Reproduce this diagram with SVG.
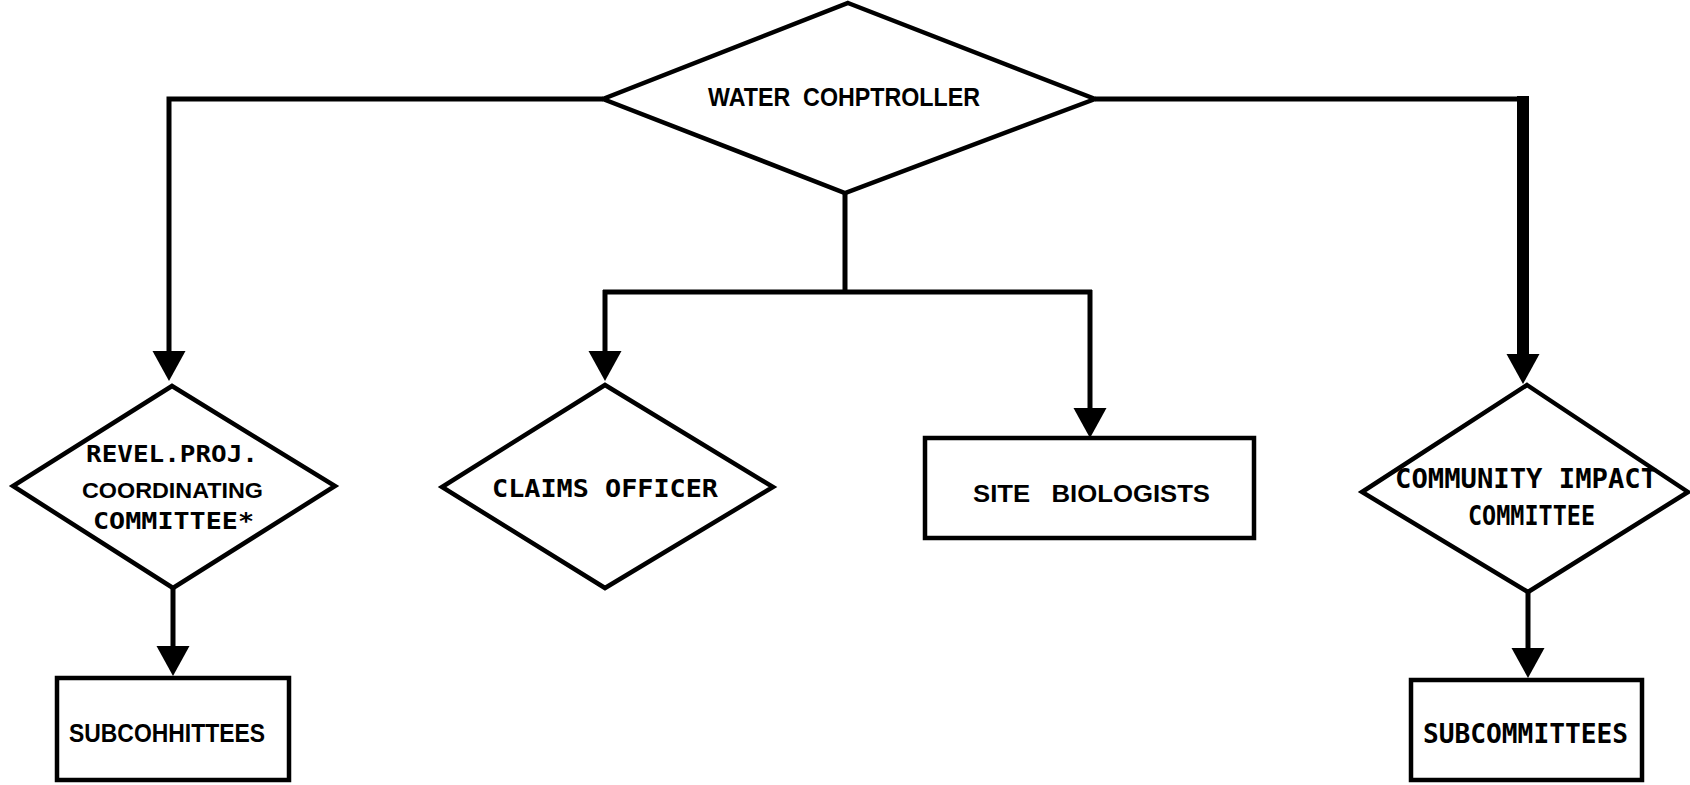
<svg xmlns="http://www.w3.org/2000/svg" width="1690" height="785" viewBox="0 0 1690 785">
  <style>
    .shape { fill: #fff; stroke: #000; stroke-width: 4.5; stroke-linejoin: miter; }
    .wire { fill: none; stroke: #000; stroke-width: 5; stroke-linecap: butt; stroke-linejoin: miter; }
    .heavy { stroke-width: 12; }
    text { white-space: pre; }
    .sans { font-family: "Liberation Sans", Arial, sans-serif; font-weight: bold; fill: #000; }
    .stencil { font-family: "DejaVu Sans Mono", "Liberation Mono", monospace; font-weight: bold; fill: #000; }
  </style>
  <defs>
    <marker id="arrow" viewBox="0 -17 32 34" refX="2" refY="0" markerUnits="userSpaceOnUse" markerWidth="32" markerHeight="34" orient="auto">
      <path d="M0,-16.5 L30,0 L0,16.5 Z" fill="#000"/>
    </marker>
  </defs>

  <rect width="1690" height="785" fill="#fff"/>

  <!-- connectors -->
  <g id="connectors">
    <path class="wire" d="M603,99 H169 V353" marker-end="url(#arrow)"/>
    <path class="wire" d="M845,193 V292"/>
    <path class="wire" d="M603,292 H1092"/>
    <path class="wire" d="M605,290 V353" marker-end="url(#arrow)"/>
    <path class="wire" d="M1090,290 V410" marker-end="url(#arrow)"/>
    <path class="wire" d="M1095,99 H1523"/>
    <path class="wire heavy" d="M1523,96 V356" marker-end="url(#arrow)"/>
    <path class="wire" d="M173,588 V648" marker-end="url(#arrow)"/>
    <path class="wire" d="M1528,592 V650" marker-end="url(#arrow)"/>
  </g>

  <!-- nodes -->
  <g id="water-comptroller">
    <polygon class="shape" points="848,3 1095,99 845,193 603,99"/>
    <text class="sans" x="708" y="106" font-size="26.5" textLength="272" lengthAdjust="spacingAndGlyphs" xml:space="preserve">WATER  COHPTROLLER</text>
  </g>

  <g id="revel-proj-committee">
    <polygon class="shape" points="172,386 335,486 173,588 13,486"/>
    <text class="stencil" x="86" y="462" font-size="23" textLength="172" lengthAdjust="spacingAndGlyphs">REVEL.PROJ.</text>
    <text class="sans" x="82" y="498" font-size="22.5" textLength="181" lengthAdjust="spacingAndGlyphs">COORDINATING</text>
    <text class="stencil" x="93" y="529" font-size="23" textLength="161" lengthAdjust="spacingAndGlyphs">COMMITTEE*</text>
  </g>

  <g id="claims-officer">
    <polygon class="shape" points="605,385 773,487 605,588 442,487"/>
    <text class="stencil" x="492" y="497" font-size="25" textLength="226" lengthAdjust="spacingAndGlyphs">CLAIMS OFFICER</text>
  </g>

  <g id="site-biologists">
    <rect class="shape" x="925" y="438" width="329" height="100"/>
    <text class="sans" x="973" y="502" font-size="23.5" textLength="237" lengthAdjust="spacingAndGlyphs" xml:space="preserve">SITE   BIOLOGISTS</text>
  </g>

  <g id="community-impact-committee">
    <polygon class="shape" points="1527,385 1688,492 1528,592 1362,492"/>
    <text class="stencil" x="1395" y="488" font-size="26" textLength="262" lengthAdjust="spacingAndGlyphs">COMMUNITY IMPACT</text>
    <text class="stencil" x="1468" y="525" font-size="26" textLength="127" lengthAdjust="spacingAndGlyphs">COMMITTEE</text>
  </g>

  <g id="subcommittees-left">
    <rect class="shape" x="57" y="678" width="232" height="102"/>
    <text class="sans" x="69" y="742" font-size="25" textLength="196" lengthAdjust="spacingAndGlyphs">SUBCOHHITTEES</text>
  </g>

  <g id="subcommittees-right">
    <rect class="shape" x="1411" y="680" width="231" height="100"/>
    <text class="stencil" x="1423" y="743" font-size="26" textLength="205" lengthAdjust="spacingAndGlyphs">SUBCOMMITTEES</text>
  </g>
</svg>
